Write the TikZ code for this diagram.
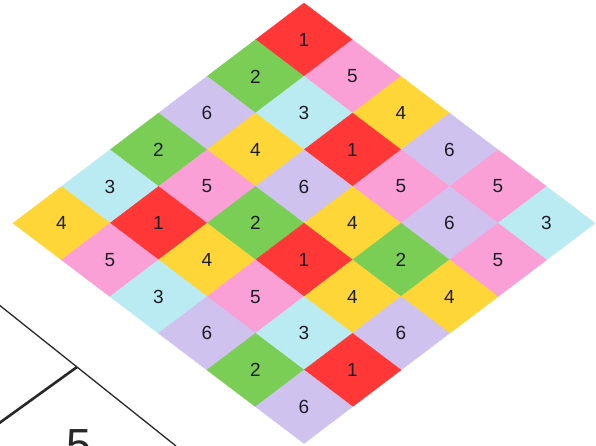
\documentclass[tikz,border=0pt]{standalone}
\usepackage{fontspec}
\setmainfont{Liberation Sans}
\usetikzlibrary{calc}
\definecolor{tile1}{RGB}{255,55,55}
\definecolor{tile2}{RGB}{122,206,86}
\definecolor{tile3}{RGB}{186,234,242}
\definecolor{tile4}{RGB}{255,214,56}
\definecolor{tile5}{RGB}{250,160,214}
\definecolor{tile6}{RGB}{208,194,238}
\definecolor{numink}{RGB}{30,30,40}
\definecolor{lineink}{RGB}{40,40,40}

\begin{document}
\begin{tikzpicture}[x=1pt,y=-1pt,
  num/.style={font=\fontsize{19}{19}\selectfont,text=numink,inner sep=0pt},
  big/.style={font=\fontsize{45}{45}\selectfont,text=lineink,inner sep=0pt,anchor=base}]
\useasboundingbox (0,0) rectangle (596,445);
% rows run down-left, entries run down-right
\foreach \row [count=\j from 0] in {{1,5,4,6,5,3},{2,3,1,5,6,5},{6,4,6,4,2,4},{2,5,2,1,4,6},{3,1,4,5,3,1},{4,5,3,6,2,6}} {
  \foreach \v [count=\i from 0] in \row {
    \coordinate (c-\i-\j) at ({304+48.5*(\i-\j)},{39.7+36.7*(\i+\j)});
    \filldraw[fill=tile\v,draw=tile\v,line width=0.4pt] ($(c-\i-\j)+(0,-36.7)$) -- ($(c-\i-\j)+(48.5,0)$)
      -- ($(c-\i-\j)+(0,36.7)$) -- ($(c-\i-\j)+(-48.5,0)$) -- cycle;
    \node[num] (n-\i-\j) at (c-\i-\j) {\v};
  }
}
% corner of the next figure
\coordinate (jn) at (77,367);
\coordinate (ua) at (-2,304);
\coordinate (ub) at (176,446);
\coordinate (uc) at (-2,424);
\draw[lineink,line width=1.3pt] (ua) -- (jn) -- (ub);
\draw[lineink,line width=2.6pt] (jn) -- (uc);
\node[big] (five) at (79,460) {5};
\end{tikzpicture}
\end{document}
